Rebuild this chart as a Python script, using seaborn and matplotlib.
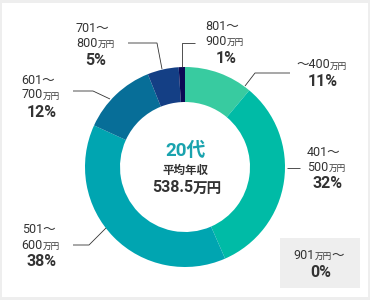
import matplotlib
matplotlib.use("Agg")
import matplotlib.pyplot as plt
import seaborn as sns
from matplotlib import font_manager
from matplotlib.patches import Rectangle

# ---------------- data ----------------
categories = ["～400万円", "401～500万円", "501～600万円", "601～700万円",
              "701～800万円", "801～900万円", "901万円～"]
percents = [11, 32, 38, 12, 5, 1, 0]
colors = ["#38cba0", "#00bba6", "#00a5b1", "#076e98", "#143f85", "#0c0a55", "#eeeeee"]
center_title = "20代"
center_sub = "平均年収"
center_value_num = "538.5"
center_value_unit = "万円"

# ---------------- style ----------------
sns.set_theme(style="white")
names = {f.name for f in font_manager.fontManager.ttflist}
NUM = "Liberation Sans Narrow" if "Liberation Sans Narrow" in names else "Roboto"
CJK = "Noto Sans CJK JP"
FAM = [NUM, CJK]
plt.rcParams["font.family"] = FAM
TXT = "#333333"

W, H = 370, 300
fig = plt.figure(figsize=(W / 100, H / 100), dpi=100, facecolor="#eeeeee")
ax = fig.add_axes([0, 0, 1, 1])
ax.set_facecolor("none")


def Y(y):
    return H - y


ax.add_patch(Rectangle((2, 3), 366, 294, facecolor="white", edgecolor="none", zorder=0))

# donut
palette = sns.color_palette(colors)
ax.pie(percents, colors=palette, startangle=90, counterclock=False, radius=100,
       center=(185, Y(167)), wedgeprops=dict(width=35, edgecolor="none", linewidth=0))
ax.set_xlim(0, W)
ax.set_ylim(0, H)
ax.set_aspect("auto")
ax.axis("off")


def chain(x, y, parts, color=TXT, weight="normal", ha="left"):
    """parts: list of (text, size) drawn one after another on one baseline"""
    prev = None
    items = []
    for s, size in parts:
        if prev is None:
            prev = ax.text(x, Y(y), s, ha="left", va="baseline", fontsize=size,
                           color=color, family=FAM, fontweight=weight)
        else:
            prev = ax.annotate(s, xy=(1, Y(y)), xycoords=(prev, "data"), ha="left",
                               va="baseline", fontsize=size, color=color, family=FAM,
                               fontweight=weight)
        items.append(prev)
    return items


# center text
ax.text(185, Y(156), center_title, ha="center", va="baseline", fontsize=13.5,
        fontweight="bold", color="#1aa3ae", family=FAM)
ax.text(185.5, Y(174), center_sub, ha="center", va="baseline", fontsize=8.3,
        fontweight="bold", color=TXT, family=[CJK])
chain(152, 192.5, [(center_value_num, 11.5), (center_value_unit, 10.5)], weight="bold")


def pct(x, y, p):
    ax.text(x, Y(y), f"{p}%", ha="center", va="baseline", fontsize=11.5,
            fontweight="bold", color=TXT, family=FAM)


def leader(pts):
    xs = [p[0] for p in pts]
    ys = [Y(p[1]) for p in pts]
    ax.plot(xs, ys, color=TXT, lw=0.6, solid_capstyle="butt")


NS, US = 9, 6.2  # number size, unit size

# ～400万円
chain(296, 68.5, [("～400", NS), ("万円", US)])
pct(322.5, 86, percents[0])
leader([(245, 86), (255, 73), (290, 73)])
# 401～500
chain(307, 156, [("401～", NS)])
chain(307, 170.7, [("500", NS), ("万円", US)])
pct(328, 188.3, percents[1])
leader([(287, 168), (300, 168)])
# 501～600
chain(21.7, 233.3, [("501～", NS)])
chain(21.7, 249, [("600", NS), ("万円", US)])
pct(42, 266, percents[2])
leader([(106, 228), (89, 245), (73, 245)])
# 601～700
chain(21.7, 84, [("601～", NS)])
chain(21.7, 98.5, [("700", NS), ("万円", US)])
pct(42, 116.7, percents[3])
leader([(110, 99), (93, 91), (73, 91)])
# 701～800
chain(76, 32.3, [("701～", NS)])
chain(76, 47.4, [("800", NS), ("万円", US)])
pct(96, 65, percents[4])
leader([(162, 69), (157, 43), (128, 43)])
# 801～900
chain(205, 30.3, [("801～", NS)])
chain(205, 45, [("900", NS), ("万円", US)])
pct(226, 62.7, percents[5])
leader([(182, 67), (182, 43), (195, 43)])
# 901万円～ box
ax.add_patch(Rectangle((280, Y(287.7)), 80, 50, facecolor="#eeeeee", edgecolor="none", zorder=1))
chain(293.3, 259, [("901", NS), ("万円", US), ("～", NS)])
pct(321, 276.7, percents[6])

fig.savefig("out.png", dpi=100)
